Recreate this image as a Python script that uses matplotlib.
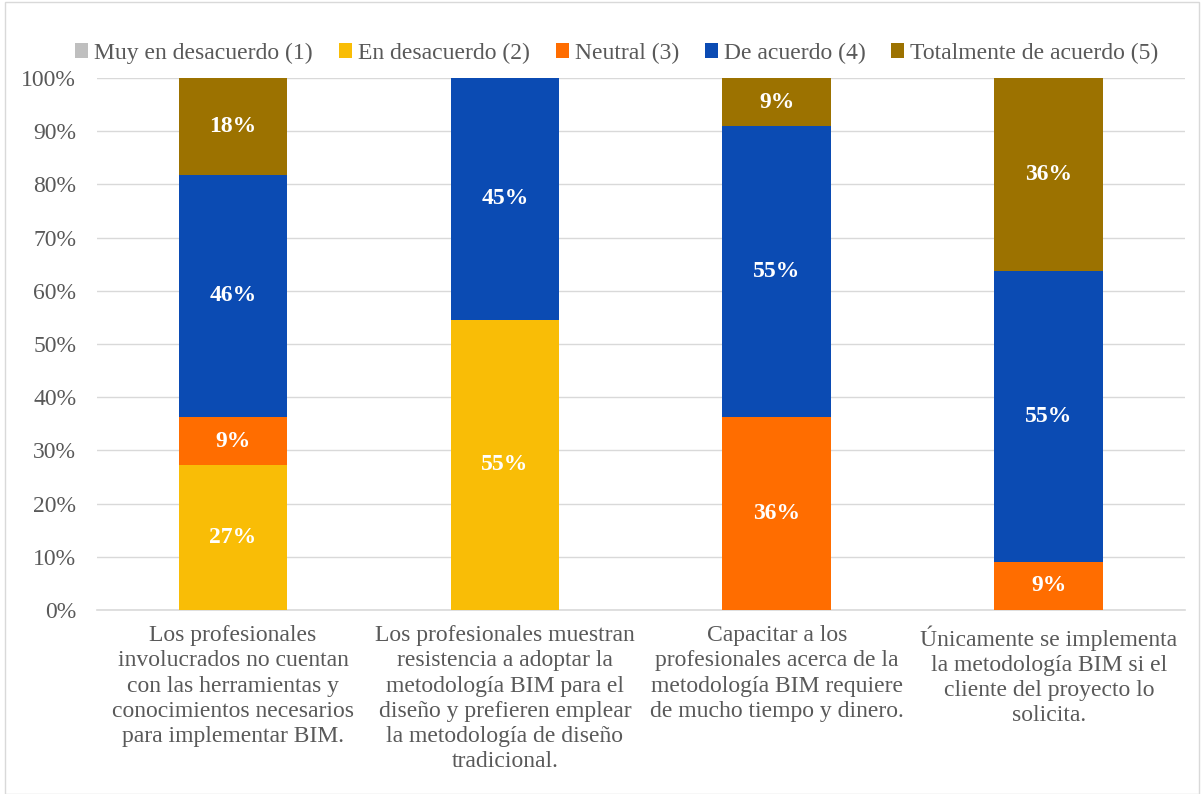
import numpy as np
import matplotlib.pyplot as plt
from matplotlib.patches import Rectangle

plt.rcParams['font.family'] = ['Liberation Serif', 'DejaVu Serif']

categories = [
    "Los profesionales\ninvolucrados no cuentan\ncon las herramientas y\nconocimientos necesarios\npara implementar BIM.",
    "Los profesionales muestran\nresistencia a adoptar la\nmetodología BIM para el\ndiseño y prefieren emplear\nla metodología de diseño\ntradicional.",
    "Capacitar a los\nprofesionales acerca de la\nmetodología BIM requiere\nde mucho tiempo y dinero.",
    "Únicamente se implementa\nla metodología BIM si el\ncliente del proyecto lo\nsolicita.",
]
series_names = ["Muy en desacuerdo (1)", "En desacuerdo (2)", "Neutral (3)",
                "De acuerdo (4)", "Totalmente de acuerdo (5)"]
muy_desacuerdo = [0.0, 0.0, 0.0, 0.0]
desacuerdo = [27.2, 54.55, 0.0, 0.0]
neutral = [9.1, 0.0, 36.36, 9.09]
de_acuerdo = [45.5, 45.45, 54.55, 54.55]
totalmente = [18.2, 0.0, 9.09, 36.36]

colors = ['#BFBFBF', '#F9BD06', '#FF6D00', '#0B4BB3', '#9C7200']
series = [muy_desacuerdo, desacuerdo, neutral, de_acuerdo, totalmente]

fig = plt.figure(figsize=(12.04, 7.94), dpi=100)
ax = fig.add_axes([0.0806, 0.2317, 0.9034, 0.6701])

x = np.arange(len(categories))
bottom = np.zeros(len(categories))
for name, vals, col in zip(series_names, series, colors):
    vals = np.array(vals)
    ax.bar(x, vals, bottom=bottom, width=0.4, color=col, label=name, zorder=3)
    for xi, v, b in zip(x, vals, bottom):
        if v > 0:
            ax.text(xi, b + v / 2, f"{v:.0f}%", ha='center', va='center',
                    color='white', fontsize=17, fontweight='bold', zorder=4)
    bottom += vals

ax.set_xlim(-0.5, len(categories) - 0.5)
ax.set_ylim(0, 100)
ax.set_yticks(np.arange(0, 101, 10))
ax.set_yticklabels([f"{t}%" for t in range(0, 101, 10)])
ax.yaxis.grid(True, color='#D9D9D9', linewidth=1, zorder=0)
for s in ['top', 'right', 'left']:
    ax.spines[s].set_visible(False)
ax.spines['bottom'].set_color('#D9D9D9')
ax.spines['bottom'].set_linewidth(1.2)
ax.tick_params(axis='both', length=0, labelsize=17, colors='#595959')
ax.tick_params(axis='y', pad=15)
ax.set_xticks(x)
ax.set_xticklabels(categories, fontsize=17, color='#595959', linespacing=1.26)
ax.tick_params(axis='x', pad=11)

leg = ax.legend(loc='lower center', bbox_to_anchor=(0.478, 1.0), ncol=5,
                frameon=False, fontsize=17, handlelength=0.55, handleheight=0.55,
                handletextpad=0.25, columnspacing=1.1, borderaxespad=0.2)
for t in leg.get_texts():
    t.set_color('#595959')

fig.patches.append(Rectangle((0.004, 0.0), 0.992, 0.997, transform=fig.transFigure,
                             fill=False, edgecolor='#D9D9D9', linewidth=1))

fig.savefig('out.png', dpi=100)
